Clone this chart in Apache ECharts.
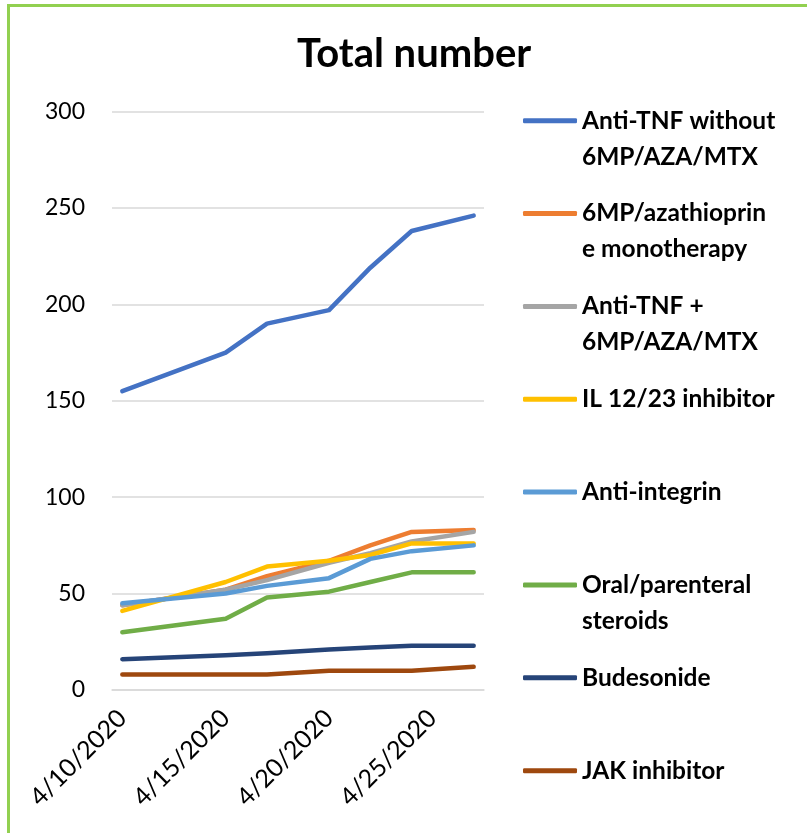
<!DOCTYPE html>
<html>
<head>
<meta charset="utf-8">
<script src="https://cdn.jsdelivr.net/npm/echarts@6/dist/echarts.min.js"></script>
<style>
  html, body { margin: 0; padding: 0; background: #fff; }
  #frame { position: absolute; left: 7px; top: 4px; width: 900px; height: 900px; border: 3px solid #92D050; box-sizing: border-box; }
  #chart { position: absolute; left: 0; top: 0; width: 807px; height: 833px; }
</style>
</head>
<body>
<div id="frame"></div>
<div id="chart"></div>
<script>
// Axis categories: every day of the date axis
const axisDays = ['4/10/2020','4/11/2020','4/12/2020','4/13/2020','4/14/2020','4/15/2020','4/16/2020','4/17/2020','4/18/2020',
  '4/19/2020','4/20/2020','4/21/2020','4/22/2020','4/23/2020','4/24/2020','4/25/2020','4/26/2020','4/27/2020'];
// Dates that have observations
const sampleDates = ['4/10/2020','4/15/2020','4/17/2020','4/20/2020','4/22/2020','4/24/2020','4/27/2020'];

const seriesNames = ['Anti-TNF without 6MP/AZA/MTX','6MP/azathioprine monotherapy','Anti-TNF + 6MP/AZA/MTX',
  'IL 12/23 inhibitor','Anti-integrin','Oral/parenteral steroids','Budesonide','JAK inhibitor'];
const legendLabels = ['Anti-TNF without\n6MP/AZA/MTX','6MP/azathioprin\ne monotherapy','Anti-TNF +\n6MP/AZA/MTX',
  'IL 12/23 inhibitor','Anti-integrin','Oral/parenteral\nsteroids','Budesonide','JAK inhibitor'];

const antiTnfWithout = [155, 175, 190, 197, 219, 238, 246];
const azaMono        = [44, 52, 59, 67, 75, 82, 83];
const antiTnfCombo   = [44, 52, 57, 66, 71, 77, 82];
const il1223         = [41, 56, 64, 67, 70, 76, 76];
const antiIntegrin   = [45, 50, 54, 58, 68, 72, 75];
const steroids       = [30, 37, 48, 51, 56, 61, 61];
const budesonide     = [16, 18, 19, 21, 22, 23, 23];
const jak            = [8, 8, 8, 10, 10, 10, 12];

const yTicks = [0, 50, 100, 150, 200, 250, 300];

const allValues = [antiTnfWithout, azaMono, antiTnfCombo, il1223, antiIntegrin, steroids, budesonide, jak];
const colors = ['#4472C4','#ED7D31','#A5A5A5','#FFC000','#5B9BD5','#70AD47','#264478','#9E480E'];

function expand(vals) {
  return axisDays.map(d => {
    const i = sampleDates.indexOf(d);
    return i >= 0 ? vals[i] : null;
  });
}

const FONT = 'Lato';
const legendY0 = 120.7, legendStep = 92.85, lineH = 36;
const legends = seriesNames.map((name, i) => {
  const twoLine = legendLabels[i].indexOf('\n') >= 0;
  const cy = legendY0 + i * legendStep;
  return {
    left: 523,
    top: twoLine ? cy - lineH * 1.5 : cy - lineH / 2,
    padding: 0,
    orient: 'vertical',
    itemWidth: 54,
    itemHeight: 5,
    icon: 'roundRect',
    data: [name],
    formatter: n => (twoLine ? '\n' : '') + legendLabels[seriesNames.indexOf(n)],
    selectedMode: false,
    textStyle: {
      fontFamily: FONT, fontWeight: 'bold', fontSize: 24.5, color: '#000',
      lineHeight: lineH
    }
  };
});

const chart = echarts.init(document.getElementById('chart'), null, { renderer: 'canvas' });
chart.setOption({
  animation: false,
  backgroundColor: 'transparent',
  title: {
    text: 'Total number',
    left: 292, top: 29,
    textStyle: { fontFamily: FONT, fontWeight: 'bold', fontSize: 40, color: '#000' }
  },
  legend: legends,
  grid: { left: 112, right: 323, top: 111.5, bottom: 143, containLabel: false },
  xAxis: {
    type: 'category',
    data: axisDays,
    boundaryGap: true,
    axisLine: { lineStyle: { color: '#D9D9D9', width: 1.5 } },
    axisTick: { interval: 4, length: 8, lineStyle: { color: '#D9D9D9', width: 1.5 } },
    axisLabel: { interval: 4, rotate: 45, margin: 24, fontFamily: FONT, fontSize: 25, color: '#000' },
    splitLine: { show: false }
  },
  yAxis: {
    type: 'value',
    min: yTicks[0], max: yTicks[yTicks.length - 1], interval: yTicks[1] - yTicks[0],
    axisLine: { show: false },
    axisTick: { show: false },
    axisLabel: { margin: 27, fontFamily: FONT, fontSize: 23, color: '#000' },
    splitLine: { lineStyle: { color: '#D9D9D9', width: 1.5 } }
  },
  series: seriesNames.map((name, i) => ({
    name: name,
    type: 'line',
    data: expand(allValues[i]),
    connectNulls: true,
    symbol: 'none',
    showSymbol: false,
    color: colors[i],
    lineStyle: { width: 4.5, color: colors[i], cap: 'round', join: 'round' }
  }))
});
</script>
</body>
</html>
